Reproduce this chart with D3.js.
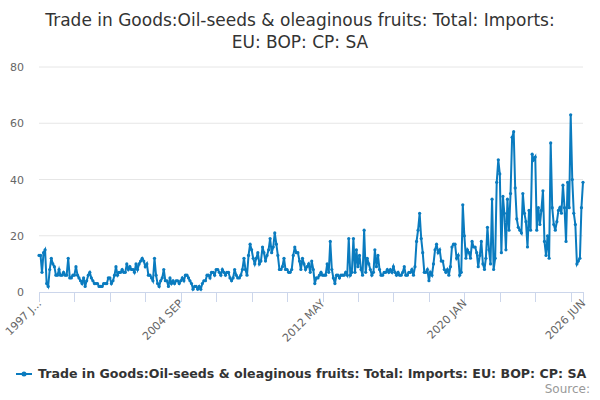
<!DOCTYPE html>
<html>
<head>
<script src="https://d3js.org/d3.v7.min.js"></script>
<style>
  body { margin:0; font-family:"DejaVu Sans", sans-serif; }
  .grid line { stroke:#e6e6e6; }
  text { fill:#666; }
</style>
</head>
<body>
<script>
var startYear = 1997, startMonth = 0;
var values = [
  13,13,7,14,15,3,2,8,12,10,9,6,
  6,8,6,6,7,6,6,12,5,5,6,6,
  9,6,5,4,3,5,2,4,6,7,5,4,
  3,3,3,2,2,2,3,3,3,5,5,3,
  4,6,9,6,7,7,8,7,7,10,8,9,
  8,8,7,10,8,10,11,12,11,9,10,6,
  6,5,4,12,6,3,2,4,5,8,4,4,
  2,5,3,4,3,4,4,3,4,5,4,6,
  6,5,4,3,1,2,2,1,2,1,3,4,
  4,6,6,5,7,7,6,8,8,7,6,8,
  7,6,7,7,5,4,5,8,6,5,5,6,
  8,12,8,6,13,17,15,12,10,12,14,10,
  11,16,14,11,13,15,19,14,16,21,17,13,
  8,8,9,12,8,8,7,7,8,13,16,14,
  14,11,8,12,10,8,9,10,7,11,8,3,
  5,5,6,7,6,6,6,10,7,18,8,5,
  3,6,6,5,6,6,6,7,6,19,6,7,
  19,7,15,9,13,8,6,22,7,12,10,8,
  6,7,15,9,13,8,6,6,7,7,8,7,
  8,7,9,7,6,7,6,6,7,9,6,6,
  7,7,8,6,9,18,22,28,19,14,7,7,
  8,4,7,6,10,15,17,14,15,11,11,8,
  7,8,6,9,16,17,17,12,13,6,7,31,
  20,12,15,14,12,18,16,16,14,9,13,18,
  10,8,12,23,15,10,33,8,12,39,47,42,
  14,34,28,15,33,22,35,55,57,37,26,23,
  22,21,35,28,25,16,29,22,49,47,48,22,
  30,24,29,36,18,13,20,12,53,30,24,22,
  25,29,30,28,38,30,18,39,30,63,40,28,
  24,10,11,12,30,39
];
var yTicks = [0,20,40,60,80];
var labelMonths = [0,92,184,276,353];
var tickLabels = ["1997 J...","2004 SEP","2012 MAY","2020 JAN","2026 JUN"];
var title = ["Trade in Goods:Oil-seeds & oleaginous fruits: Total: Imports:", "EU: BOP: CP: SA"];
var seriesName = "Trade in Goods:Oil-seeds & oleaginous fruits: Total: Imports: EU: BOP: CP: SA";

var data = values.map(function(v,i){ return {date:new Date(startYear, startMonth+i, 1), value:v}; });
function monthDate(m){ return new Date(startYear, startMonth+m, 1); }

var svg = d3.select("body").append("svg").attr("width",600).attr("height",400);
var plotLeft = 39, plotRight = 583, plotTop = 67, plotBottom = 292;

var x = d3.scaleTime().domain([data[0].date, data[data.length-1].date]).range([plotLeft,plotRight]);
var y = d3.scaleLinear().domain([0,80]).range([plotBottom,plotTop]);

svg.append("g").selectAll("text").data(title).enter().append("text")
  .attr("x",300).attr("y",function(d,i){return 26+i*22;})
  .attr("text-anchor","middle").style("font-size","17px").style("fill","#333")
  .text(function(d){return d;});

svg.append("g").attr("class","grid").selectAll("line").data(yTicks.slice(1)).enter().append("line")
  .attr("x1",plotLeft).attr("x2",plotRight).attr("y1",function(d){return y(d);}).attr("y2",function(d){return y(d);});

svg.append("g").selectAll("text").data(yTicks).enter().append("text")
  .attr("x",24).attr("y",function(d){return y(d)+4;}).attr("text-anchor","end")
  .style("font-size","11px").text(function(d){return d;});

svg.append("line").attr("x1",plotLeft).attr("x2",plotRight).attr("y1",plotBottom+0.5).attr("y2",plotBottom+0.5).attr("stroke","#ccd6eb");
var tickMonths = d3.range(0,353,23).concat([353]);
svg.append("g").selectAll("line").data(tickMonths).enter().append("line")
  .attr("x1",function(d){return Math.round(x(monthDate(d)))+0.5;})
  .attr("x2",function(d){return Math.round(x(monthDate(d)))+0.5;})
  .attr("y1",plotBottom).attr("y2",plotBottom+10).attr("stroke","#ccd6eb");

svg.append("g").selectAll("text").data(labelMonths).enter().append("text")
  .attr("transform",function(d){return "translate("+(x(monthDate(d))+3)+","+(plotBottom+12)+") rotate(-45)";})
  .attr("text-anchor","end").style("font-size","11px")
  .text(function(d,i){return tickLabels[i];});

var line = d3.line().x(function(d){return x(d.date);}).y(function(d){return y(d.value);});
svg.append("path").datum(data).attr("d",line).attr("fill","none").attr("stroke","#0a7bbf").attr("stroke-width",2);
svg.append("g").selectAll("circle").data(data).enter().append("circle")
  .attr("cx",function(d){return x(d.date);}).attr("cy",function(d){return y(d.value);})
  .attr("r",1.6).attr("fill","#0a7bbf");

var lg = svg.append("g").attr("transform","translate(0,374)");
lg.append("line").attr("x1",16).attr("x2",32).attr("y1",0).attr("y2",0).attr("stroke","#0a7bbf").attr("stroke-width",2);
lg.append("circle").attr("cx",24).attr("cy",0).attr("r",2.5).attr("fill","#0a7bbf");
lg.append("text").attr("x",38).attr("y",4).style("font-size","12.6px").style("font-weight","bold").style("fill","#333").text(seriesName);
svg.append("text").attr("x",590).attr("y",393).attr("text-anchor","end").style("font-size","12px").style("fill","#999").text("Source:");
</script>
</body>
</html>
